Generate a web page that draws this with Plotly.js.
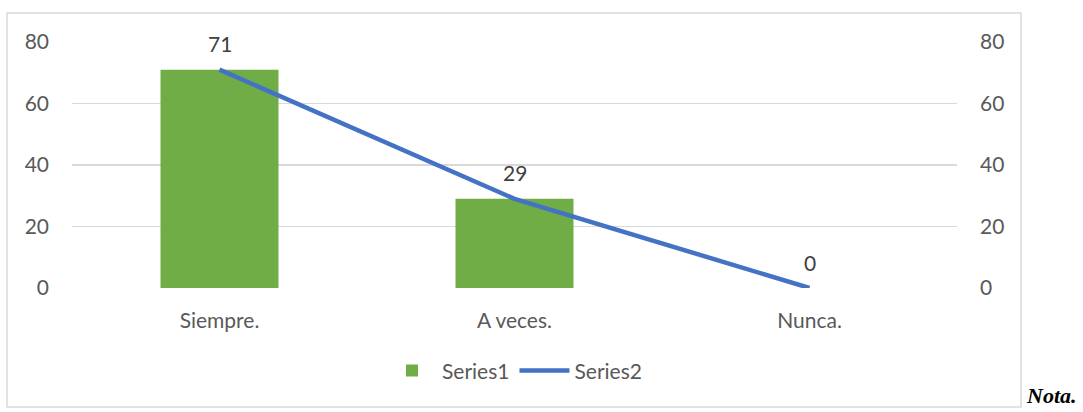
<!DOCTYPE html>
<html>
<head>
<meta charset="utf-8">
<script src="https://cdn.plot.ly/plotly-3.0.1.min.js"></script>
<style>
  html, body { margin: 0; padding: 0; background: #fff; }
  #chart { width: 1083px; height: 412px; }
</style>
</head>
<body>
<div id="chart"></div>
<script>
// Chart data
let categories = ['Siempre.', 'A veces.', 'Nunca.'];
let series1 = [71, 29, 0];
let series2 = [71, 29, 0];
let axisTicks = [0, 20, 40, 60, 80];

let textColor = '#595959';
let gridColor = '#d9d9d9';
let baseFont = 'Lato, "Open Sans", sans-serif';

let barTrace = {
    x: categories,
    y: series1,
    name: 'Series1',
    type: 'bar',
    marker: { color: '#70ad47' },
    yaxis: 'y',
    hoverinfo: 'none'
};

let lineTrace = {
    x: categories,
    y: series2,
    name: 'Series2',
    type: 'scatter',
    mode: 'lines',
    line: { color: '#4472c4', width: 4.5 },
    yaxis: 'y2',
    hoverinfo: 'none'
};

// Data labels above the line points
let labels = categories.map((c, i) => ({
    x: c,
    y: series2[i],
    xref: 'x',
    yref: 'y2',
    text: String(series2[i]),
    showarrow: false,
    yshift: 26,
    font: { family: baseFont, size: 21, color: '#404040' }
}));

labels.push({
    xref: 'paper',
    yref: 'paper',
    x: 1.076,
    y: -0.435,
    xanchor: 'left',
    yanchor: 'middle',
    text: '<b><i>Nota.</i></b>',
    showarrow: false,
    font: { family: '"Liberation Serif", "Times New Roman", serif', size: 22, color: '#000' }
});

let yAxisBase = {
    range: [0, 80],
    tickvals: axisTicks,
    showgrid: true,
    gridcolor: gridColor,
    gridwidth: 1.5,
    zeroline: false,
    showline: false,
    ticks: '',
    ticklabelstandoff: 22,
    tickfont: { family: baseFont, size: 21, color: textColor },
    fixedrange: true
};

let layout = {
    width: 1083,
    height: 412,
    autosize: false,
    margin: { l: 72, r: 126, t: 42, b: 124, pad: 0 },
    paper_bgcolor: '#fff',
    plot_bgcolor: '#fff',
    bargap: 0.6,
    font: { family: baseFont, size: 21, color: textColor },
    xaxis: {
        type: 'category',
        showgrid: false,
        zeroline: false,
        showline: false,
        ticks: '',
        ticklabelstandoff: 18,
        tickfont: { family: baseFont, size: 21, color: textColor },
        fixedrange: true
    },
    yaxis: Object.assign({}, yAxisBase, { side: 'left' }),
    yaxis2: Object.assign({}, yAxisBase, { side: 'right', overlaying: 'y', showgrid: false }),
    showlegend: true,
    legend: {
        orientation: 'h',
        x: 0.5,
        xanchor: 'center',
        y: -0.337,
        yanchor: 'middle',
        font: { family: baseFont, size: 21, color: textColor },
        itemwidth: 50,
        tracegroupgap: 0
    },
    annotations: labels,
    shapes: [{
        type: 'rect',
        xref: 'paper',
        yref: 'paper',
        x0: -0.0734,
        x1: 1.0723,
        y0: -0.4837,
        y1: 1.1179,
        line: { color: gridColor, width: 1.5 },
        fillcolor: 'rgba(0,0,0,0)',
        layer: 'below'
    }]
};

Plotly.newPlot('chart', [barTrace, lineTrace], layout, { displayModeBar: false, staticPlot: true });
</script>
</body>
</html>
